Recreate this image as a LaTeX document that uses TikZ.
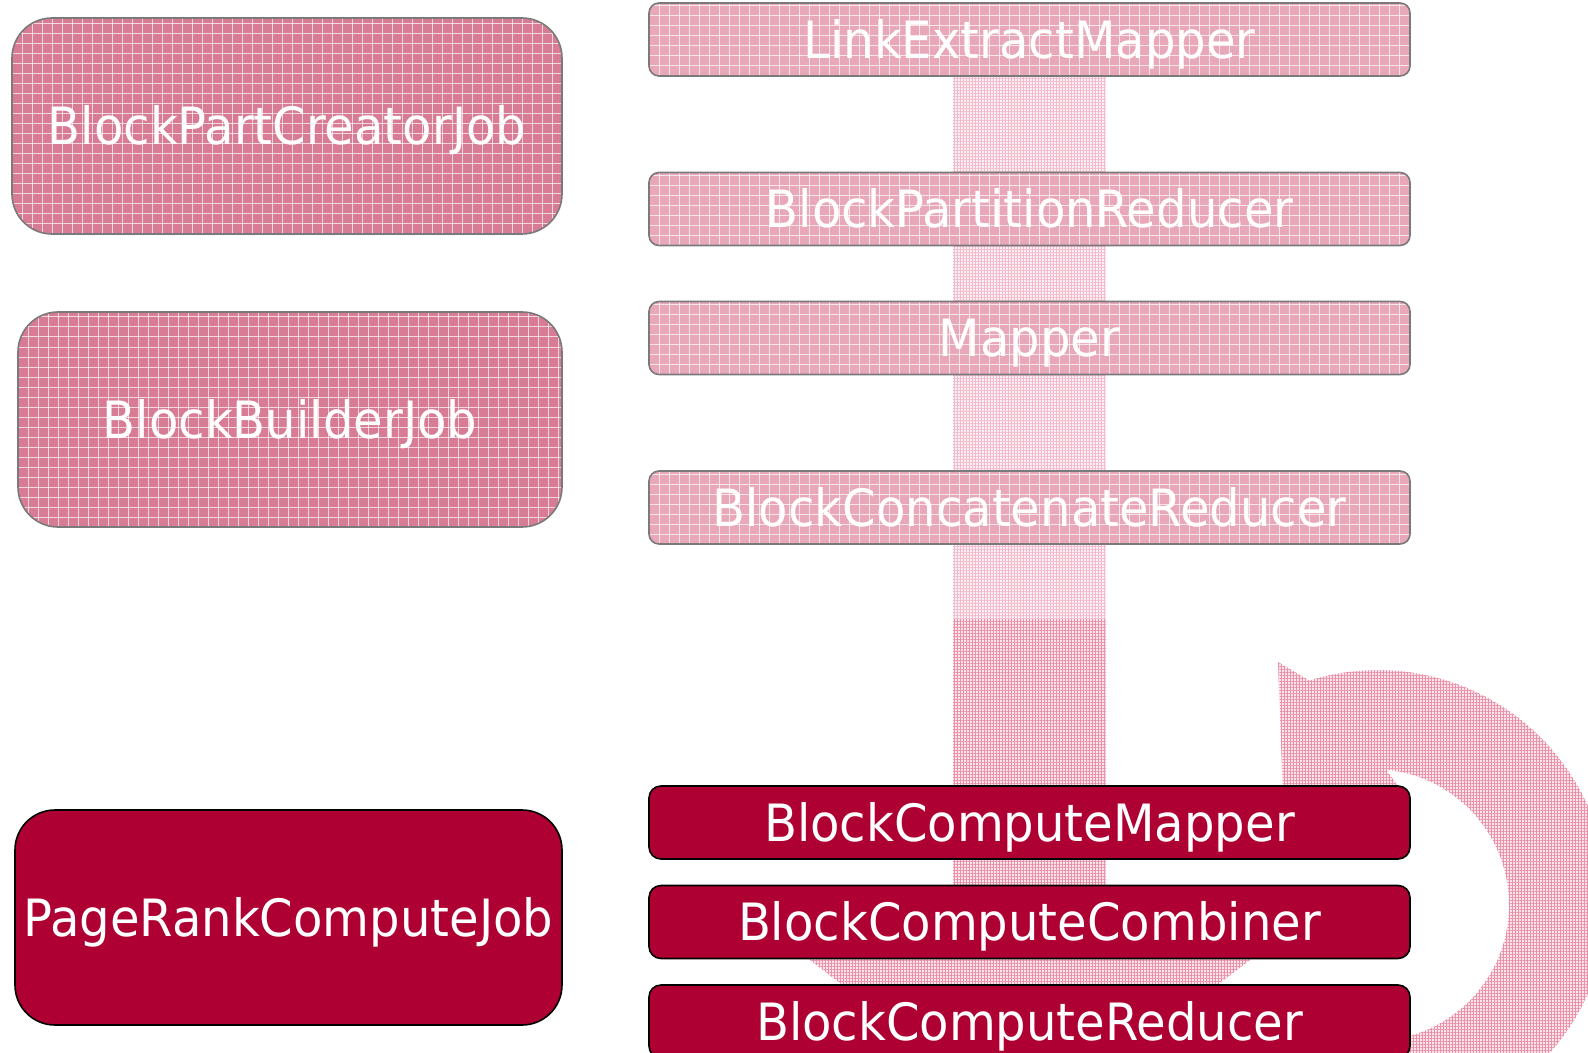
\documentclass[tikz,border=0pt]{standalone}
\usepackage{fontspec}
\setmainfont{DejaVu Sans Condensed}[FakeStretch=1.04]
\usetikzlibrary{patterns.meta}
\definecolor{darkred}{HTML}{AE0033}
\definecolor{jobpink}{HTML}{D87C96}
\definecolor{steppink}{HTML}{E8A8BA}
\definecolor{bordergray}{HTML}{7A7A7A}
\definecolor{bandlight}{HTML}{FDF0F4}
\definecolor{bandlightline}{HTML}{F2BACB}
\definecolor{banddense}{HTML}{FCE6EC}
\definecolor{banddenseline}{HTML}{EA90A8}
\tikzset{
  gridfill/.style={path picture={
     \foreach \i in {0,...,80}{\draw[white, line width=0.5pt, opacity=0.7] ([xshift=\i*5pt]path picture bounding box.south west) -- ([xshift=\i*5pt]path picture bounding box.north west);}
     \foreach \j in {0,...,25}{\draw[white, line width=0.5pt, opacity=0.7] ([yshift=\j*5pt]path picture bounding box.south west) -- ([yshift=\j*5pt]path picture bounding box.south east);}
  }},
  lbl/.style={inner sep=0pt, text=white, font=\fontsize{25.7pt}{30pt}\selectfont, text height=18.7pt, text depth=-1.5pt},
  jobbox/.style={lbl, draw=bordergray, line width=0.8pt, fill=jobpink, rounded corners=20pt, gridfill},
  stepbox/.style={lbl, draw=bordergray, line width=0.8pt, fill=steppink, rounded corners=5pt, gridfill, minimum width=380.5pt, minimum height=36.5pt},
  darkjob/.style={lbl, draw=black, line width=0.8pt, fill=darkred, rounded corners=20pt},
  darkstep/.style={lbl, draw=black, line width=0.8pt, fill=darkred, rounded corners=6pt, minimum width=380.5pt, minimum height=36.5pt},
  lightflow/.style={fill=bandlight, postaction={pattern={Hatch[angle=0,distance=1.5pt,line width=0.25pt]}, pattern color=bandlightline}},
  denseflow/.style={fill=banddense, postaction={pattern={Hatch[angle=0,distance=1.5pt,line width=0.3pt]}, pattern color=banddenseline}}
}
\begin{document}
\begin{tikzpicture}[x=0.5pt, y=-0.5pt]
\path[use as bounding box, clip] (0,0) rectangle (1588,1053);

% flow arrow (background)
\path[lightflow] (953,76) rectangle (1106,620);
\path[denseflow] (953,619) -- (1106,619) -- (1106,950) -- (1263,950) -- (1029.5,1129) -- (797,950) -- (953,950) -- cycle;

% circular arrow (background)
\path[denseflow] (1278,662) -- plot[domain=-107.4:120, samples=80] ({1378+230*cos(\x)}, {900+230*sin(\x)})
   -- plot[domain=120:-84.4, samples=80] ({1373+136*cos(\x)}, {905+136*sin(\x)})
   -- (1402,792) -- (1285,850) -- cycle;

% jobs
\node[jobbox, minimum width=275pt, minimum height=108pt] (creator) at (287,126) {BlockPartCreatorJob};
\node[jobbox, minimum width=272pt, minimum height=107.5pt] (builder) at (290,419.5) {BlockBuilderJob};
\node[darkjob, minimum width=273.5pt, minimum height=107.5pt] (pagerank) at (288.5,917.5) {PageRankComputeJob};

% steps
\node[stepbox] (linkextract) at (1029.5,39.5) {LinkExtractMapper};
\node[stepbox] (partition) at (1029.5,209) {BlockPartitionReducer};
\node[stepbox] (mapper) at (1029.5,338) {Mapper};
\node[stepbox] (concat) at (1029.5,507.5) {BlockConcatenateReducer};
\node[darkstep] (cmapper) at (1029.5,822.5) {BlockComputeMapper};
\node[darkstep] (combiner) at (1029.5,922) {BlockComputeCombiner};
\node[darkstep] (reducer) at (1029.5,1021.5) {BlockComputeReducer};
\end{tikzpicture}
\end{document}
